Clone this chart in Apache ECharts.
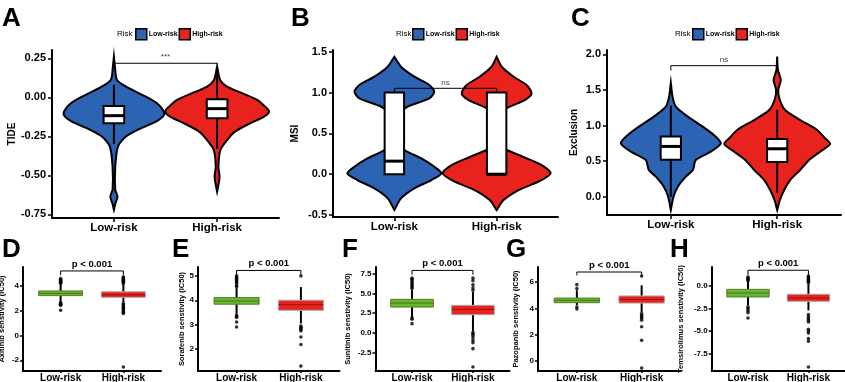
<!DOCTYPE html>
<html>
<head>
<meta charset="utf-8">
<script src="https://cdn.jsdelivr.net/npm/echarts@6/dist/echarts.min.js"></script>
<style>
  html, body { margin: 0; padding: 0; background: #fff; }
  #main { width: 845px; height: 382px; }
</style>
</head>
<body>
<div id="main"></div>
<script>
const groups = ['Low-risk', 'High-risk'];

// violin outlines, [value, half width in group units]
const tideLowViolin = [[0.261,0],[0.197,0.01],[0.111,0.03],[0.058,0.145],[0.004,0.31],[-0.038,0.417],[-0.081,0.475],[-0.113,0.485],[-0.156,0.407],[-0.199,0.26],[-0.252,0.116],[-0.316,0.039],[-0.445,0.013],[-0.594,0.013],[-0.637,0.035],[-0.68,0.015],[-0.722,0]];
const tideHighViolin = [[0.197,0],[0.111,0.03],[0.068,0.097],[0.026,0.242],[-0.017,0.388],[-0.06,0.465],[-0.092,0.504],[-0.124,0.455],[-0.167,0.32],[-0.22,0.174],[-0.274,0.097],[-0.338,0.032],[-0.445,0.013],[-0.509,0.024],[-0.562,0.013],[-0.605,0]];
const msiLowViolin = [[1.439,0],[1.316,0.065],[1.194,0.195],[1.092,0.342],[1.01,0.39],[0.929,0.342],[0.826,0.127],[0.724,0.032],[0.582,0.01],[0.418,0.017],[0.296,0.098],[0.194,0.264],[0.092,0.391],[0.01,0.46],[-0.072,0.362],[-0.174,0.195],[-0.296,0.065],[-0.439,0]];
const msiHighViolin = [[1.439,0],[1.316,0.05],[1.194,0.166],[1.092,0.293],[0.99,0.342],[0.908,0.274],[0.806,0.098],[0.704,0.029],[0.5,0.01],[0.337,0.049],[0.235,0.215],[0.112,0.44],[0.01,0.528],[-0.092,0.41],[-0.194,0.215],[-0.317,0.068],[-0.439,0]];
const exclusionLowViolin = [[1.602,0],[1.405,0.016],[1.265,0.047],[1.124,0.16],[0.984,0.30],[0.867,0.404],[0.749,0.47],[0.632,0.376],[0.515,0.235],[0.375,0.207],[0.281,0.141],[0.14,0.066],[0.0,0.025],[-0.187,0]];
const exclusionHighViolin = [[1.967,0],[1.78,0.007],[1.639,0.034],[1.499,0.01],[1.358,0.025],[1.218,0.075],[1.077,0.216],[0.937,0.376],[0.82,0.451],[0.74,0.498],[0.632,0.404],[0.515,0.30],[0.375,0.216],[0.234,0.122],[0.094,0.066],[-0.047,0.025],[-0.187,0]];

// box stats [lower whisker, Q1, median, Q3, upper whisker]
const tideLowBox = [-0.30, -0.167, -0.118, -0.056, 0.08];
const tideHighBox = [-0.33, -0.135, -0.073, -0.013, 0.165];
const msiLowBox = [0, 0, 0.16, 1.0, 1.0];
const msiHighBox = [0, 0, 0.0, 1.0, 1.0];
const exclusionLowBox = [0.0, 0.519, 0.706, 0.846, 1.28];
const exclusionHighBox = [0.05, 0.486, 0.673, 0.81, 1.22];

const axitinibLowBox = [2.7, 3.24, 3.42, 3.62, 4.2];
const axitinibHighBox = [2.7, 3.1, 3.3, 3.55, 4.1];
const axitinibLowOut = [4.62, 4.55, 4.5, 4.45, 4.4, 4.35, 4.3, 4.25, 2.65, 2.6, 2.55, 2.5, 2.45, 2.05];
const axitinibHighOut = [4.75, 4.7, 4.62, 4.55, 4.5, 4.45, 4.4, 4.3, 4.2, 2.6, 2.5, 2.4, 2.3, 2.2, 2.1, 2.0, 1.9, 1.8, -2.55];

const sorafenibLowBox = [3.45, 3.84, 3.97, 4.11, 4.5];
const sorafenibHighBox = [3.05, 3.59, 3.82, 4.0, 4.54];
const sorafenibLowOut = [5.0, 4.95, 4.9, 4.85, 4.8, 4.75, 4.7, 4.6, 4.55, 3.4, 3.35, 3.3, 3.11, 2.91];
const sorafenibHighOut = [4.99, 2.95, 2.9, 2.85, 2.8, 2.75, 2.5, 2.19, 1.31];

const sunitinibLowBox = [2.0, 3.27, 3.78, 4.25, 5.5];
const sunitinibHighBox = [0.2, 2.31, 2.98, 3.49, 5.2];
const sunitinibLowOut = [6.94, 6.8, 6.6, 6.4, 6.2, 6.0, 5.8, 5.65, 1.9, 1.72, 1.17];
const sunitinibHighOut = [6.94, 6.6, 6.1, 5.7, 5.4, 0.05, -0.1, -0.3, -0.6, -0.94, -1.24, -2.0, -4.32];

const pazopanibLowBox = [4.23, 4.43, 4.61, 4.78, 5.37];
const pazopanibHighBox = [3.72, 4.4, 4.68, 4.94, 5.75];
const pazopanibLowOut = [5.8, 5.5, 4.1, 3.95];
const pazopanibHighOut = [6.45, 3.6, 3.45, 3.35, 3.25, 3.1, 2.6, 1.57, -0.54];

const temsirolimusLowBox = [-2.13, -1.21, -0.77, -0.36, 0.5];
const temsirolimusHighBox = [-2.7, -1.69, -1.32, -0.91, 0.3];
const temsirolimusLowOut = [1.01, 0.9, 0.8, 0.7, 0.6, -2.3, -2.5, -2.7, -2.95, -3.54];
const temsirolimusHighOut = [1.12, 1.0, 0.9, 0.8, 0.7, 0.6, 0.5, 0.4, -3.17, -3.4, -3.6, -3.8, -3.99, -4.8, -5.0, -5.2, -5.83, -6.13, -8.99];

// tick labels
const tideTicks = [-0.75, -0.5, -0.25, 0, 0.25];
const msiTicks = [-0.5, 0, 0.5, 1, 1.5];
const exclusionTicks = [0, 0.5, 1, 1.5, 2];
const axitinibTicks = [-2, 0, 2, 4];
const sorafenibTicks = [2, 3, 4, 5];
const sunitinibTicks = [-2.5, 0, 2.5, 5, 7.5];
const pazopanibTicks = [0, 2, 4, 6];
const temsirolimusTicks = [-7.5, -5, -2.5, 0];

const FONT = 'Liberation Sans, Arial, Helvetica, sans-serif';
const BLUE = '#2c63b2';
const RED = '#e8221d';
const GREEN = '#6db531';

// panel layout: grid in px, y range, axis name
const panels = [
  {letter: 'A', lx: 2, ly: 6, left: 52, top: 50, width: 227, height: 168, min: -0.774, max: 0.303, ticks: tideTicks, dec: 2, name: 'TIDE', gap: 35, small: false},
  {letter: 'B', lx: 291, ly: 6, left: 333, top: 50, width: 225, height: 167, min: -0.524, max: 1.521, ticks: msiTicks, dec: 1, name: 'MSI', gap: 33, small: false},
  {letter: 'C', lx: 571, ly: 6, left: 607, top: 50, width: 234, height: 165, min: -0.257, max: 2.06, ticks: exclusionTicks, dec: 1, name: 'Exclusion', gap: 28, small: false},
  {letter: 'D', lx: 2, ly: 237, left: 23, top: 267, width: 138, height: 104, min: -2.87, max: 5.56, ticks: axitinibTicks, dec: 0, name: 'Axitinib senstivity (IC50)', gap: 17, small: true},
  {letter: 'E', lx: 172, ly: 237, left: 198, top: 267, width: 141.5, height: 104, min: 1.11, max: 5.36, ticks: sorafenibTicks, dec: 0, name: 'Sorafenib senstivity (IC50)', gap: 12, small: true},
  {letter: 'F', lx: 342, ly: 237, left: 375.5, top: 267, width: 134, height: 104, min: -4.83, max: 8.35, ticks: sunitinibTicks, dec: 1, name: 'Sunitinib senstivity (IC50)', gap: 24, small: true},
  {letter: 'G', lx: 506, ly: 237, left: 538, top: 267, width: 142.5, height: 104, min: -0.76, max: 7.14, ticks: pazopanibTicks, dec: 0, name: 'Pazopanib senstivity (IC50)', gap: 18, small: true},
  {letter: 'H', lx: 670, ly: 237, left: 711.7, top: 267, width: 133, height: 104, min: -9.43, max: 2.12, ticks: temsirolimusTicks, dec: 1, name: 'Temsirolimus senstivity (IC50)', gap: 27, small: true}
];

const grids = [], xAxes = [], yAxes = [], titles = [];
panels.forEach((p, i) => {
  grids.push({left: p.left, top: p.top, width: p.width, height: p.height, containLabel: false, outerBoundsMode: 'none'});
  xAxes.push({
    type: 'value', gridIndex: i, min: -0.6, max: 1.6,
    axisLine: {onZero: false, lineStyle: {color: '#000', width: 2}},
    axisTick: {customValues: [0, 1], length: p.small ? 2 : 4, lineStyle: {color: '#000', width: 1.5}},
    axisLabel: {customValues: [0, 1], formatter: v => groups[Math.round(v)], color: '#000', fontWeight: 'bold',
      fontFamily: FONT, fontSize: p.small ? 10 : 11.5, margin: p.small ? 2.5 : 4},
    splitLine: {show: false}
  });
  yAxes.push({
    type: 'value', gridIndex: i, min: p.min, max: p.max,
    name: p.name, nameLocation: 'middle', nameRotate: 90, nameGap: p.gap,
    nameTextStyle: {color: '#000', fontWeight: 'bold', fontFamily: FONT, fontSize: p.small ? 7.5 : 10},
    axisLine: {onZero: false, lineStyle: {color: '#000', width: 2}},
    axisTick: {customValues: p.ticks, length: p.small ? 3 : 4, lineStyle: {color: '#000', width: 1.5}},
    axisLabel: {customValues: p.ticks, formatter: v => v.toFixed(p.dec), color: '#000', fontWeight: 'bold',
      fontFamily: FONT, fontSize: p.small ? 8 : 11, margin: p.small ? 4 : 6},
    splitLine: {show: false}
  });
  titles.push({text: p.letter, left: p.lx, top: p.ly, padding: 0,
    textStyle: {fontSize: 26, fontWeight: 'bold', fontFamily: FONT, color: '#000'}});
});

function violinSeries(i, x, profile, color, name) {
  return {
    type: 'custom', name: name, coordinateSystem: 'cartesian2d', xAxisIndex: i, yAxisIndex: i,
    silent: true, itemStyle: {color: color}, data: [[x, profile[0][0]]],
    renderItem: function (params, api) {
      const right = profile.map(d => api.coord([x + d[1], d[0]]));
      const left = profile.slice().reverse().map(d => api.coord([x - d[1], d[0]]));
      return {type: 'polygon', shape: {points: right.concat(left), smooth: 0.25},
        style: {fill: color, stroke: '#000', lineWidth: 2}};
    }
  };
}

function boxSeries(i, x, stats, w, fill, border, borderW, medColor, medW, whiskW) {
  return {
    type: 'custom', coordinateSystem: 'cartesian2d', xAxisIndex: i, yAxisIndex: i,
    silent: true, data: [[x].concat(stats)],
    renderItem: function (params, api) {
      const lo = api.coord([x, stats[0]]), q1 = api.coord([x, stats[1]]), q3 = api.coord([x, stats[3]]), hi = api.coord([x, stats[4]]);
      const a = api.coord([x - w / 2, stats[2]]), b = api.coord([x + w / 2, stats[2]]);
      const tl = api.coord([x - w / 2, stats[3]]);
      return {type: 'group', children: [
        {type: 'line', shape: {x1: lo[0], y1: lo[1], x2: q1[0], y2: q1[1]}, style: {stroke: '#000', lineWidth: whiskW}},
        {type: 'line', shape: {x1: q3[0], y1: q3[1], x2: hi[0], y2: hi[1]}, style: {stroke: '#000', lineWidth: whiskW}},
        {type: 'rect', shape: {x: tl[0], y: tl[1], width: b[0] - a[0], height: q1[1] - q3[1]},
          style: {fill: fill, stroke: border, lineWidth: borderW}},
        {type: 'line', shape: {x1: a[0], y1: a[1], x2: b[0], y2: b[1]}, style: {stroke: medColor, lineWidth: medW}}
      ]};
    }
  };
}

function outlierSeries(i, x, values) {
  return {
    type: 'scatter', xAxisIndex: i, yAxisIndex: i, silent: true, symbolSize: 3.6,
    itemStyle: {color: '#000'}, data: values.map(v => [x, v])
  };
}

function bracketSeries(i, y, leg, label, textStyle) {
  return {
    type: 'custom', coordinateSystem: 'cartesian2d', xAxisIndex: i, yAxisIndex: i,
    silent: true, data: [[0.5, y]],
    renderItem: function (params, api) {
      const p0 = api.coord([0, leg]), p1 = api.coord([0, y]), p2 = api.coord([1, y]), p3 = api.coord([1, leg]);
      return {type: 'group', children: [
        {type: 'polyline', shape: {points: [p0, p1, p2, p3]}, style: {stroke: '#000', lineWidth: 1, fill: null}},
        {type: 'text', x: (p1[0] + p2[0]) / 2, y: p1[1] - 2,
          style: Object.assign({text: label, align: 'center', verticalAlign: 'bottom', fontFamily: FONT}, textStyle)}
      ]};
    }
  };
}

const nsStyle = {fontSize: 8, fill: '#444'};
const pStyle = {fontSize: 9.5, fontWeight: 'bold', fill: '#000'};

const series = [
  violinSeries(0, 0, tideLowViolin, BLUE, 'Low-risk'),
  violinSeries(0, 1, tideHighViolin, RED, 'High-risk'),
  violinSeries(1, 0, msiLowViolin, BLUE, 'Low-risk'),
  violinSeries(1, 1, msiHighViolin, RED, 'High-risk'),
  violinSeries(2, 0, exclusionLowViolin, BLUE, 'Low-risk'),
  violinSeries(2, 1, exclusionHighViolin, RED, 'High-risk'),
  boxSeries(0, 0, tideLowBox, 0.2, '#fff', '#000', 2, '#000', 3, 2),
  boxSeries(0, 1, tideHighBox, 0.2, '#fff', '#000', 2, '#000', 3, 2),
  boxSeries(1, 0, msiLowBox, 0.19, '#fff', '#000', 2, '#000', 3, 2),
  boxSeries(1, 1, msiHighBox, 0.19, '#fff', '#000', 2, '#000', 3, 2),
  boxSeries(2, 0, exclusionLowBox, 0.19, '#fff', '#000', 2, '#000', 3, 2),
  boxSeries(2, 1, exclusionHighBox, 0.19, '#fff', '#000', 2, '#000', 3, 2),
  bracketSeries(0, 0.218, 0.21, '***', nsStyle),
  bracketSeries(1, 1.052, 1.0, 'ns', nsStyle),
  bracketSeries(2, 1.84, 1.77, 'ns', nsStyle)
];

const drugs = [
  [axitinibLowBox, axitinibHighBox, axitinibLowOut, axitinibHighOut, 5.24, 4.89],
  [sorafenibLowBox, sorafenibHighBox, sorafenibLowOut, sorafenibHighOut, 5.22, 5.02],
  [sunitinibLowBox, sunitinibHighBox, sunitinibLowOut, sunitinibHighOut, 7.92, 7.37],
  [pazopanibLowBox, pazopanibHighBox, pazopanibLowOut, pazopanibHighOut, 6.76, 6.5],
  [temsirolimusLowBox, temsirolimusHighBox, temsirolimusLowOut, temsirolimusHighOut, 1.76, 1.2]
];
drugs.forEach((d, k) => {
  const i = k + 3;
  series.push(boxSeries(i, 0, d[0], 0.7, GREEN, '#4e7f28', 1, '#3f7a1c', 1, 2));
  series.push(boxSeries(i, 1, d[1], 0.7, RED, '#a8a8a8', 1, '#9c1010', 1, 2));
  series.push(outlierSeries(i, 0, d[2]));
  series.push(outlierSeries(i, 1, d[3]));
  series.push(bracketSeries(i, d[4], d[5], 'p < 0.001', pStyle));
});

function legendAt(left) {
  return {
    left: left, top: 28, orient: 'horizontal', selectedMode: false, padding: 0,
    itemWidth: 11, itemHeight: 11, itemGap: 1, icon: 'rect',
    itemStyle: {borderColor: '#000', borderWidth: 1.5},
    textStyle: {fontSize: 7, fontWeight: 'bold', color: '#000', fontFamily: FONT, padding: [0, 0, 0, -3]},
    data: groups
  };
}

const riskText = [117, 396, 675].map(x => ({
  type: 'text', x: x, y: 33.5,
  style: {text: 'Risk', fontSize: 8, fontFamily: FONT, fill: '#000', verticalAlign: 'middle'}
}));

const chart = echarts.init(document.getElementById('main'));
chart.setOption({
  backgroundColor: '#fff',
  animation: false,
  title: titles,
  legend: [legendAt(135), legendAt(412), legendAt(692)],
  graphic: riskText,
  grid: grids,
  xAxis: xAxes,
  yAxis: yAxes,
  series: series
});
</script>
</body>
</html>
